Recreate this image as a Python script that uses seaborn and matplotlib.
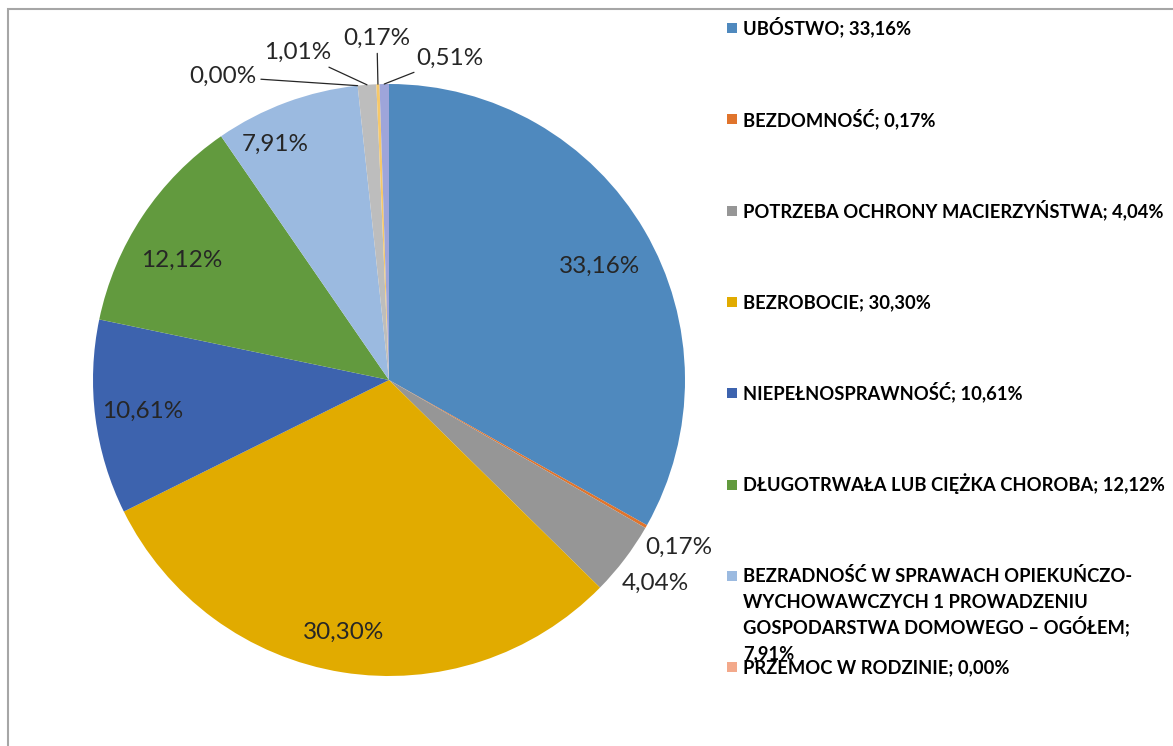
import numpy as np
import matplotlib
matplotlib.use('Agg')
import matplotlib.pyplot as plt
from matplotlib.patches import Rectangle
import seaborn as sns

sns.set_theme(style='white')
plt.rcParams['font.family'] = ['Lato', 'DejaVu Sans']

# dane
kategorie = [
    'UBÓSTWO',
    'BEZDOMNOŚĆ',
    'POTRZEBA OCHRONY MACIERZYŃSTWA',
    'BEZROBOCIE',
    'NIEPEŁNOSPRAWNOŚĆ',
    'DŁUGOTRWAŁA LUB CIĘŻKA CHOROBA',
    'BEZRADNOŚĆ W SPRAWACH OPIEKUŃCZO-\nWYCHOWAWCZYCH 1 PROWADZENIU\nGOSPODARSTWA DOMOWEGO – OGÓŁEM',
    'PRZEMOC W RODZINIE',
    'INNE 1',
    'INNE 2',
    'INNE 3',
]
wartosci = [33.16, 0.17, 4.04, 30.30, 10.61, 12.12, 7.91, 0.00, 1.01, 0.17, 0.51]
kolory = ['#4F89BE', '#E0742C', '#969696', '#E1AB00', '#3D63AE', '#629A3E',
          '#9BBAE0', '#F3A98B', '#BDBDBD', '#F6C86A', '#9EA5DA']
n_legenda = 8  # tyle wpisow widac w legendzie (reszta ucieta)

fmt = lambda v: f'{v:.2f}%'.replace('.', ',')

fig = plt.figure(figsize=(11.73, 7.46), dpi=100)
W, H = 1173, 746
cx, cy, R = 389, 380, 296
ax = fig.add_axes([(cx - R) / W, (H - cy - R) / H, 2 * R / W, 2 * R / H])

wedges, _ = ax.pie(wartosci, colors=kolory, startangle=90, counterclock=False,
                   radius=1, wedgeprops=dict(linewidth=0))
ax.set_xlim(-1, 1)
ax.set_ylim(-1, 1)
ax.axis('off')

# etykiety: wewnatrz dla duzych, na zewnatrz dla malych
# (dx, dy) w pikselach dla etykiet z linia odniesienia
odnosniki = {7: (-135, 9), 8: (-69, 32), 9: (-1, 46), 10: (66, 26)}
przesun = {6: (-27, 2), 5: (0, -18), 0: (-4, -12), 3: (-6, -7)}
for i, w in enumerate(wedges):
    mid = np.deg2rad((w.theta1 + w.theta2) / 2)
    v = wartosci[i]
    if i in odnosniki:
        ex, ey = np.cos(mid), np.sin(mid)
        ax.annotate(fmt(v), xy=(ex, ey), xytext=odnosniki[i], textcoords='offset pixels',
                    ha='center', va='center', fontsize=17.5, color='#262626',
                    annotation_clip=False,
                    arrowprops=dict(arrowstyle='-', color='#262626', lw=0.9,
                                    shrinkA=1, shrinkB=0))
    elif v < 5:
        r = 1.12
        ax.annotate(fmt(v), xy=(r * np.cos(mid), r * np.sin(mid)), xytext=(2, -3),
                    textcoords='offset pixels', ha='center', va='center',
                    fontsize=17.5, color='#262626', annotation_clip=False)
    else:
        r = 0.84
        ax.annotate(fmt(v), xy=(r * np.cos(mid), r * np.sin(mid)),
                    xytext=przesun.get(i, (0, 0)), textcoords='offset pixels',
                    ha='center', va='center', fontsize=17.5, color='#262626')

# legenda rysowana recznie (ostatnia pozycja nachodzi na kolejna)
y0, krok, wiersz = 28, 91.3, 25.7
for i in range(n_legenda):
    y = y0 + i * krok
    fig.add_artist(Rectangle((727 / W, 1 - (y + 5) / H), 10 / W, 10 / H,
                             transform=fig.transFigure, facecolor=kolory[i], edgecolor='none'))
    linie = kategorie[i].split('\n')
    if len(linie) > 1:
        linie[-1] += ';'
        linie.append(fmt(wartosci[i]))
    else:
        linie[0] = f'{linie[0]}; {fmt(wartosci[i])}'
    for k, tekst in enumerate(linie):
        fig.text(743 / W, 1 - (y + 6.5 + k * wiersz) / H, tekst, ha='left', va='baseline',
                 fontsize=13.2, fontweight='bold', color='black')

# ramka wykresu
fig.add_artist(Rectangle((8 / W, -0.1), 1.2, 1.1 - 9 / H, transform=fig.transFigure,
                         fill=False, edgecolor='#A6A6A6', linewidth=1.5))

fig.savefig('out.png', dpi=100)
